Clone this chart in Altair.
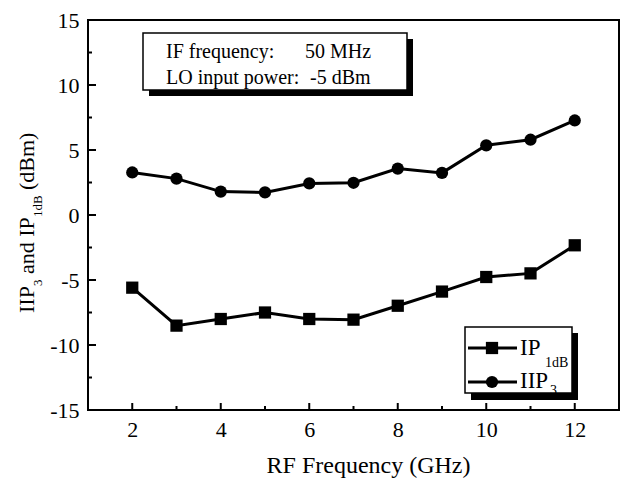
import altair as alt
import pandas as pd

# ---- data ----
freq = [2, 3, 4, 5, 6, 7, 8, 9, 10, 11, 12]
iip3 = [3.27, 2.80, 1.80, 1.74, 2.43, 2.48, 3.57, 3.24, 5.36, 5.79, 7.27]
ip1db = [-5.59, -8.51, -8.00, -7.50, -8.00, -8.05, -6.98, -5.89, -4.77, -4.49, -2.33]

x_major = [2, 4, 6, 8, 10, 12]
x_minor = [3, 5, 7, 9, 11]
y_labels = [-15, -10, -5, 0, 5, 10, 15]
y_major = [-10, -5, 0, 5, 10]
y_minor = [-12.5, -7.5, -2.5, 2.5, 7.5, 12.5]

W, H = 531, 390
FONT = "Liberation Serif"

xs = alt.Scale(domain=[1, 13], nice=False, zero=False)
ys = alt.Scale(domain=[-15, 15], nice=False, zero=False)

df = pd.DataFrame({
    "f": freq * 2,
    "v": ip1db + iip3,
    "s": ["IP1dB"] * len(freq) + ["IIP3"] * len(freq),
})

xaxis = alt.Axis(values=x_major, ticks=False, domain=False, grid=False,
                 labelFont=FONT, labelFontSize=22, labelColor="black", labelPadding=9,
                 title="RF Frequency (GHz)", titleFont=FONT, titleFontSize=24,
                 titleFontWeight="normal", titleColor="black",
                 titleX=280, titleY=62, titleBaseline="alphabetic")
yaxis = alt.Axis(values=y_labels, ticks=False, domain=False, grid=False,
                 labelFont=FONT, labelFontSize=22, labelColor="black", labelPadding=9,
                 title=None, labelExpr="toString(datum.value)")

base = alt.Chart(df).encode(
    x=alt.X("f:Q", scale=xs, axis=xaxis),
    y=alt.Y("v:Q", scale=ys, axis=yaxis),
    detail="s:N",
)
lines = base.mark_line(color="black", strokeWidth=3)
pts = base.mark_point(filled=True, color="black", opacity=1, size=150).encode(
    shape=alt.Shape("s:N", scale=alt.Scale(domain=["IP1dB", "IIP3"], range=["square", "circle"]), legend=None)
)

# inward ticks
def xticks(vals, length):
    return alt.Chart(pd.DataFrame({"f": vals})).mark_rule(color="black", strokeWidth=2).encode(
        x=alt.X("f:Q", scale=xs), y=alt.value(H), y2=alt.value(H - length))

def yticks(vals, length):
    return alt.Chart(pd.DataFrame({"v": vals})).mark_rule(color="black", strokeWidth=2).encode(
        y=alt.Y("v:Q", scale=ys), x=alt.value(0), x2=alt.value(length))

one = pd.DataFrame({"a": [0]})

def rect(x1, y1, x2, y2, fill, stroke=None):
    kw = dict(fill=fill)
    if stroke:
        kw.update(stroke=stroke, strokeWidth=1.5)
    return alt.Chart(one).mark_rect(**kw).encode(
        x=alt.value(x1), x2=alt.value(x2), y=alt.value(y1), y2=alt.value(y2))

def txt(s, x, y, size, angle=0):
    kw = dict(text=s, font=FONT, fontSize=size, align="left", baseline="alphabetic",
              color="black", fill="black")
    if angle:
        kw["angle"] = angle
    return alt.Chart(one).mark_text(**kw).encode(x=alt.value(x), y=alt.value(y))

def hline(x1, x2, y):
    return alt.Chart(one).mark_rule(color="black", strokeWidth=3).encode(
        x=alt.value(x1), x2=alt.value(x2), y=alt.value(y))

def marker(x, y, shape):
    return alt.Chart(one).mark_point(filled=True, color="black", opacity=1, size=150, shape=shape).encode(
        x=alt.value(x), y=alt.value(y))

layers = [
    lines, pts,
    xticks(x_major, 7), xticks(x_minor, 4),
    yticks(y_major, 8), yticks(y_minor, 4),
    # annotation box
    rect(61, 19, 325, 76, "black"),
    rect(55, 13, 319, 70, "white", "black"),
    txt("IF frequency:", 78, 38, 20), txt("50 MHz", 217, 38, 20),
    txt("LO input power:", 78, 64, 20), txt("-5 dBm", 222, 64, 20),
    # legend box
    rect(383, 313, 490, 380, "black"),
    rect(377, 307, 484, 373, "white", "black"),
    hline(380, 429, 328), marker(404, 328, "square"),
    hline(380, 429, 362), marker(404, 362, "circle"),
    txt("IP", 432, 335, 23), txt("1dB", 457, 347, 14),
    txt("IIP", 432, 368, 23), txt("3", 462, 375, 14),
    # y-axis title with subscripts
    txt("IIP", -54, 293, 22, 270), txt("3", -46, 266, 13, 270),
    txt("and IP", -54, 254, 22, 270), txt("1dB", -46, 197, 13, 270),
    txt("(dBm)", -54, 170, 22, 270),
]

chart = alt.layer(*layers).properties(
    width=W, height=H,
    padding={"left": 80, "top": 12, "right": 1, "bottom": 70},
    autosize="none",
    background="white",
).configure_view(stroke="black", strokeWidth=2)

chart.save("out.html", embed_options={"renderer": "svg", "actions": False})
